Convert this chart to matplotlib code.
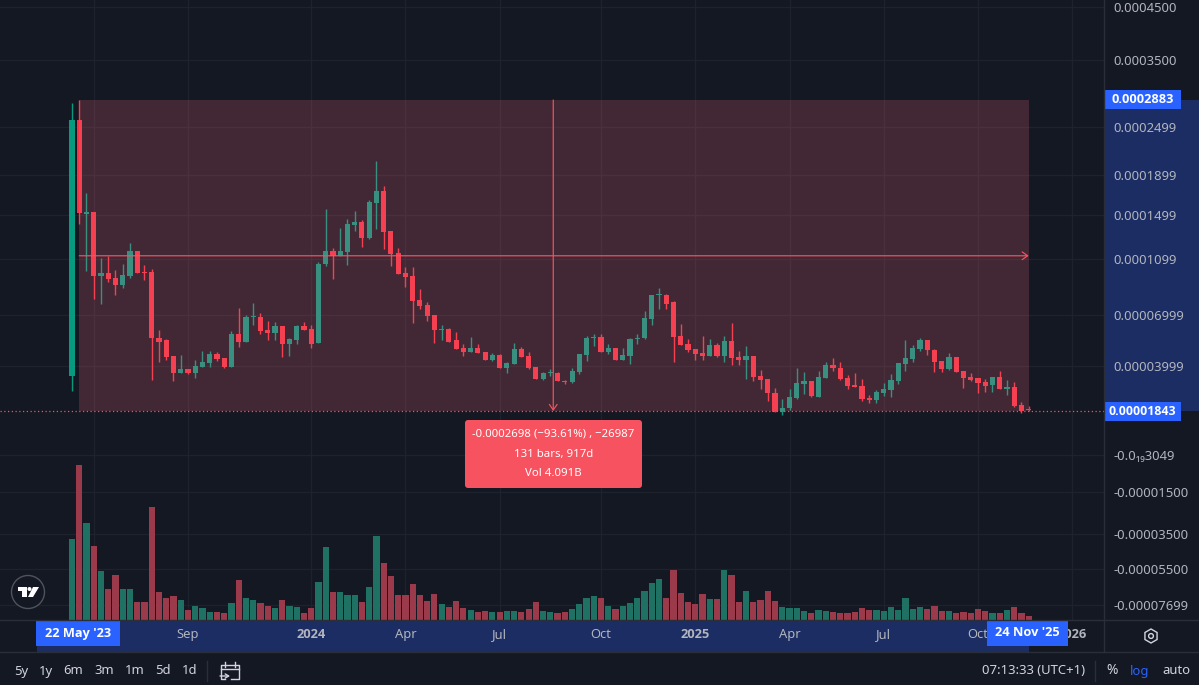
import numpy as np
import pandas as pd
import matplotlib
matplotlib.use("Agg")
import matplotlib.pyplot as plt
import matplotlib.dates as mdates
from matplotlib.patches import Rectangle, FancyBboxPatch, Circle, Polygon, RegularPolygon
from matplotlib.transforms import blended_transform_factory

plt.rcParams['font.family'] = ['Noto Sans', 'DejaVu Sans']

# Prices in units of 1e-5, one weekly bar per entry
opens = [3.50,25.88,15.11,15.31,9.72,9.92,9.53,9.04,9.72,11.65,9.97,10.0,5.60,5.44,4.55,3.64,3.83,3.64,3.96,4.15,4.66,4.44,3.96,5.84,5.32,6.86,6.89,6.08,5.88,6.32,5.25,5.44,6.28,6.12,5.26,10.58,11.70,11.27,11.56,14.02,14.27,12.84,16.13,17.32,13.41,11.47,9.94,9.70,8.0,7.66,7.0,6.06,6.12,5.44,5.01,4.74,5.01,4.74,4.32,4.60,3.91,4.11,4.96,4.55,3.93,3.35,3.62,3.65,3.24,3.20,3.68,4.58,5.56,5.62,4.78,5.01,4.32,4.55,5.52,5.56,6.75,8.34,8.34,7.82,5.70,5.25,4.96,4.70,4.53,5.19,4.53,5.38,4.51,4.34,4.55,3.50,3.32,2.68,1.80,1.97,2.42,3.10,3.22,2.49,3.41,4.07,3.91,3.41,3.04,2.99,2.45,2.34,2.68,2.81,3.22,4.13,4.38,4.94,5.44,4.90,4.29,3.83,4.51,3.74,3.45,3.38,3.19,3.05,3.43,2.87,2.95,2.10,1.93]
closes = [25.88,15.15,15.31,9.72,9.92,9.45,9.04,9.79,11.65,9.92,9.92,5.56,5.36,4.47,3.64,3.83,3.64,4.02,4.23,4.66,4.38,3.93,5.84,5.32,6.89,6.94,6.0,5.88,6.32,5.25,5.50,6.28,6.04,5.25,10.63,11.70,11.27,11.65,14.08,14.27,12.84,16.26,17.32,13.35,11.41,9.85,9.64,7.95,7.59,6.95,6.06,6.12,5.36,4.96,4.74,5.01,4.69,4.34,4.60,3.91,4.17,4.96,4.47,3.87,3.36,3.64,3.68,3.22,3.20,3.74,4.66,5.60,5.62,4.78,5.01,4.34,4.60,5.54,5.58,6.80,8.34,8.41,7.75,5.66,5.15,4.88,4.64,4.54,5.19,4.53,5.38,4.44,4.34,4.55,3.43,3.27,2.65,1.80,1.99,2.46,3.14,3.22,2.51,3.45,4.07,3.87,3.36,3.0,2.95,2.37,2.34,2.73,2.87,3.28,4.15,4.44,5.01,5.44,4.86,4.23,3.83,4.51,3.68,3.40,3.30,3.15,3.02,3.43,2.86,2.95,2.07,1.86,1.88]
highs = [28.44,28.83,17.07,15.31,11.05,11.27,10.15,10.6,12.40,11.65,10.55,10.2,6.04,5.54,4.55,4.60,3.83,4.34,4.84,4.80,4.78,4.44,5.98,7.46,6.98,7.78,7.15,6.63,6.58,6.32,5.58,6.36,6.58,6.38,10.78,15.57,11.91,13.74,14.64,15.34,14.46,16.39,20.65,17.87,13.44,11.93,10.35,10.35,8.74,7.86,7.0,6.38,6.18,5.94,5.23,5.64,5.23,4.74,4.73,4.66,4.24,5.26,5.03,4.77,3.93,3.71,3.85,3.70,3.31,3.89,4.68,5.72,5.82,5.82,5.23,5.01,5.0,5.60,5.82,7.26,8.34,8.85,8.41,7.93,6.44,5.54,4.96,5.72,5.52,5.29,5.68,6.52,4.84,5.13,4.55,3.80,3.36,2.89,2.37,2.84,3.90,3.68,3.22,3.75,4.23,4.41,4.24,3.55,3.64,3.36,2.58,2.81,3.14,3.60,4.17,5.44,5.15,5.58,5.46,4.96,4.29,4.71,4.51,3.75,3.62,3.38,3.34,3.45,3.74,3.27,3.19,2.23,2.08]
lows = [2.78,14.08,10.07,8.05,7.73,9.28,8.32,8.81,9.57,9.92,9.40,3.30,4.24,4.34,3.25,3.64,3.60,3.41,3.96,3.96,4.29,3.89,3.96,5.05,5.32,6.38,5.84,5.44,5.44,4.47,4.53,5.25,6.04,5.0,5.26,10.43,9.49,11.27,10.53,13.44,12.05,12.73,13.60,11.87,10.45,9.85,8.88,6.52,7.39,6.63,5.29,5.48,5.36,4.96,4.55,4.74,4.69,4.34,4.27,3.91,3.64,4.11,4.47,3.83,3.36,3.30,3.50,3.22,3.10,3.14,3.58,4.29,5.09,4.74,4.68,4.34,4.32,4.11,5.25,5.52,6.38,7.38,7.38,4.23,5.15,4.77,4.34,4.34,4.53,4.51,4.21,4.06,4.06,3.34,3.22,2.84,2.30,1.80,1.67,1.89,2.39,2.62,2.48,2.46,3.41,3.76,3.30,2.87,2.94,2.31,2.22,2.22,2.52,2.49,3.09,3.75,4.23,4.84,4.60,3.68,3.68,3.80,3.68,2.92,3.25,2.68,2.71,2.73,2.86,2.58,2.04,1.73,1.84]
# Volume
volumes = [80.7,155,96.7,74,49,30.7,45.3,31.3,30.7,18.3,17.7,113.3,27.7,22.3,24.3,20.3,10,14,12,8.3,8,7.3,16.7,40,22,20.3,16.7,14,12,19.7,14,13,7.3,12,38,73.3,27.7,27.7,25,25,17.7,32.7,84.3,57.3,43.7,25.3,25.3,36.3,25.3,18.7,26.3,16.3,13.3,19,12.3,10.3,8.3,9.3,7.7,7.7,9.3,9.3,8.3,11.3,18,8.7,7.7,6.7,7.7,11.3,16,21.7,24.3,21.7,14.3,11.3,14.3,17,21.7,29.3,36.7,41,21.7,50.3,27,18,16,26.3,20.7,20.7,49.7,44.7,18,29.3,18,19.7,29.3,18.7,13.3,12.3,12.3,9.3,6.7,10.3,9.3,8.3,7.3,6.7,8.3,12.3,10.3,10.3,9.3,13.3,10.3,21.7,11.3,13.3,11.3,14.3,9.3,8.7,7.3,8.3,7.3,11.3,9.3,6.7,7.3,10.3,13.3,7.3,4]
first_week = '2023-05-15'

price_ticks = [45, 35, 24.99, 18.99, 14.99, 10.99, 6.999, 3.999, 0, -1.5, -3.5, -5.5, -7.699]
price_labels = ['0.0004500', '0.0003500', '0.0002499', '0.0001899', '0.0001499', '0.0001099',
                '0.00006999', '0.00003999', '-0.0\u2081\u20893049', '-0.00001500', '-0.00003500',
                '-0.00005500', '-0.00007699']
range_high, range_low = 28.83, 1.843
range_mid = 11.26
date_ticks = ['2023-06-05', '2023-09-04', '2024-01-01', '2024-04-01', '2024-07-01', '2024-10-07',
              '2025-01-06', '2025-04-07', '2025-07-07', '2025-10-06', '2026-01-05']
date_labels = ['', 'Sep', '2024', 'Apr', 'Jul', 'Oct', '2025', 'Apr', 'Jul', 'Oct', '2026']
bold_labels = {'2024', '2025', '2026'}
ranges = ['5y', '1y', '6m', '3m', '1m', '5d', '1d']

# Colours
BG = '#141823'; GRID = '#1e222d'; TXT = '#b2b5be'; TOOL = '#d1d4dc'; BORDER = '#2a2e39'
UP = '#089981'; DOWN = '#f23645'; SEL = '#1c2d63'; TAG = '#2962ff'; MEAS = '#f7525f'
ZONE = '#ff6c80'; VOL_UP = '#1f7263'; VOL_DOWN = '#9a3a4a'

W, H = 1199, 685
fig = plt.figure(figsize=(W / 100, H / 100), dpi=100, facecolor=BG)
PANE_R, PANE_B = 1104, 620
ax = fig.add_axes([0, 1 - PANE_B / H, PANE_R / W, PANE_B / H], facecolor=BG)

# TradingView style log scale with an offset, fixed to the printed tick rows
C = 10.0
sc_p = np.array([-8.5, -7.699, -5.5, -3.5, -1.5, 0, 1.843, 3.999, 6.999, 10.99, 14.99, 18.99, 24.99, 28.83, 35, 45, 46.3])
sc_r = -np.array([620, 605, 569, 534, 492, 455, 411, 366, 315, 259, 215, 175, 127, 100, 60, 7, 0], float)
sc_l = np.log(sc_p + C)
def fwd(p):
    return np.interp(np.log(np.clip(np.asarray(p, float), -9.9, None) + C), sc_l, sc_r)
def inv(t):
    return np.exp(np.interp(np.asarray(t, float), sc_r, sc_l)) - C
ax.set_yscale('function', functions=(fwd, inv))

o, c, hi, lo = map(np.array, (opens, closes, highs, lows))
dates = pd.date_range(first_week, periods=len(o), freq='7D')
x = mdates.date2num(dates)
px_day = (1028.7 - 72) / (x[-1] - x[0])
xmin, xmax = x[0] - 72 / px_day, x[0] + (PANE_R - 72) / px_day
ax.set_xlim(xmin, xmax)
ax.set_ylim(-8.5, 46.3)

for s in ax.spines.values():
    s.set_visible(False)
ax.set_axisbelow(True)
ax.grid(True, color=GRID, lw=1, zorder=0.5)

tick_x = mdates.date2num(pd.to_datetime(date_ticks))
ax.set_xticks(tick_x)
ax.set_xticklabels(date_labels, color=TXT, fontsize=9.3)
for t in ax.get_xticklabels():
    if t.get_text() in bold_labels:
        t.set_fontfamily(['Open Sans', 'DejaVu Sans'])
        t.set_fontweight('bold')
ax.tick_params(axis='x', length=0, pad=6)
ax.yaxis.tick_right()
ax.set_yticks(price_ticks)
ax.set_yticks([], minor=True)
ax.set_yticklabels(price_labels, color=TXT, fontsize=9.4)
ax.tick_params(axis='y', length=0, pad=6.5)

# Candles
up = c >= o
cols = np.where(up, UP, DOWN)
ax.vlines(x, lo, hi, colors=cols, lw=1, zorder=2)
ax.bar(x, np.abs(c - o), bottom=np.minimum(o, c), width=5, color=cols, lw=0, zorder=2.2)

# Measure zone over the candles
ax.add_patch(Rectangle((x[1], range_low), x[-1] - x[1], range_high - range_low,
                       facecolor=ZONE, alpha=0.2, lw=0, zorder=3))
arrow = dict(arrowstyle='->,head_width=0.28,head_length=0.4', color=MEAS, lw=0.85, shrinkA=0, shrinkB=0)
ax.annotate('', xy=(x[-1], range_mid), xytext=(x[1], range_mid), zorder=3.2, arrowprops=arrow)
xm = (x[1] + x[-1]) / 2 - 0.7
ax.annotate('', xy=(xm, range_low), xytext=(xm, range_high), zorder=3.2, arrowprops=arrow)
ax.axhline(range_low, color=MEAS, lw=0.9, ls=(0, (1, 2)), zorder=3.1)

# Highlighted band on the price axis
tr_y = blended_transform_factory(ax.transAxes, ax.transData)
ax.add_patch(Rectangle((1, range_low), (W - PANE_R) / PANE_R, range_high - range_low, transform=tr_y,
                       facecolor=SEL, lw=0, clip_on=False, zorder=0.2))

# Volume pane
vax = fig.add_axes(ax.get_position(), sharex=ax, facecolor='none')
vax.set_ylim(0, PANE_B)
vax.axis('off')
vax.bar(x, volumes, width=6, color=np.where(up, VOL_UP, VOL_DOWN), lw=0)
vax.set_xlim(xmin, xmax)

# Page furniture in pixel rows
ov = fig.add_axes([0, 0, 1, 1], facecolor='none')
ov.set_xlim(0, W); ov.set_ylim(H, 0); ov.axis('off')
ax.set_zorder(2); vax.set_zorder(3)
ov.add_patch(Rectangle((37, PANE_B), 992, 32, facecolor=SEL, lw=0, zorder=0))
ov.set_zorder(1)  # strip sits under the tick labels
ax.patch.set_visible(False)
tag = fig.add_axes([0, 0, 1, 1], facecolor='none', zorder=6)
tag.set_xlim(0, W); tag.set_ylim(H, 0); tag.axis('off')
for yy in (PANE_B, 652):
    tag.plot([0, W], [yy, yy], color=BORDER, lw=1)
tag.plot([PANE_R, PANE_R], [0, 652], color=BORDER, lw=1)

BOLD = ['Open Sans', 'DejaVu Sans']
def box(x0, y0, x1, y1, text, fs=9.2):
    tag.add_patch(Rectangle((x0, y0), x1 - x0, y1 - y0, facecolor=TAG, lw=0))
    tag.text((x0 + x1) / 2, (y0 + y1) / 2, text, color='white', fontsize=fs, fontweight='bold',
             family=BOLD, ha='center', va='center')
box(1104, 90, 1181, 109, '0.0002883')
box(1104, 402, 1181, 421, '0.00001843', fs=8.9)
box(36, 620, 120, 646, "22 May '23")
box(987, 620, 1068, 646, "24 Nov '25")

tag.add_patch(FancyBboxPatch((467, 422), 173, 64, boxstyle='round,pad=2,rounding_size=3',
                             facecolor=MEAS, lw=0))
for yy, s in zip((434, 454, 473), ('-0.0002698 (\u221293.61%) , \u221226987', '131 bars, 917d', 'Vol 4.091B')):
    tag.text(553.5, yy, s, color='white', fontsize=8.2, ha='center', va='center')

for xx, s in zip((21, 46, 73, 104, 135, 163, 190), ranges):
    tag.text(xx, 671, s, color=TOOL, fontsize=9.4, ha='center', va='center')
tag.plot([207, 207], [661, 681], color=BORDER, lw=1)
tag.plot([1095, 1095], [661, 681], color=BORDER, lw=1)
tag.text(1085, 671, '07:13:33 (UTC+1)', color=TOOL, fontsize=9.4, ha='right', va='center')
tag.text(1112, 671, '%', color=TOOL, fontsize=10, ha='center', va='center')
tag.text(1140, 671, 'log', color=TAG, fontsize=9.4, ha='center', va='center')
tag.text(1176, 671, 'auto', color=TOOL, fontsize=9.4, ha='center', va='center')

# Calendar icon
tag.plot([225, 221, 221, 239, 239, 231], [679, 679, 665, 665, 679, 679], color=TOOL, lw=1)
tag.plot([221, 239], [669, 669], color=TOOL, lw=1)
tag.plot([225, 225], [662, 667], color=TOOL, lw=1)
tag.plot([235, 235], [662, 667], color=TOOL, lw=1)
tag.add_patch(Rectangle((219, 672), 9, 8, facecolor=BG, lw=0))
tag.annotate('', xy=(230, 676), xytext=(220, 676),
             arrowprops=dict(arrowstyle='->,head_width=0.15,head_length=0.25', color=TOOL, lw=1, shrinkA=0, shrinkB=0))
# Settings icon
tag.add_patch(RegularPolygon((1151, 636), 6, radius=7, fill=False, ec=TOOL, lw=1))
tag.add_patch(Circle((1151, 636), 2.4, fill=False, ec=TOOL, lw=1))
# Logo
tag.add_patch(Circle((28, 592), 16.5, facecolor=BG, ec='#50535e', lw=1))
tag.add_patch(Polygon([(18, 587), (27, 587), (27, 597), (22, 597), (22, 591), (18, 591)], facecolor='white', lw=0))
tag.add_patch(Circle((29.5, 589), 2, facecolor='white', lw=0))
tag.add_patch(Polygon([(33, 587), (39, 587), (33, 597), (28, 597)], facecolor='white', lw=0))

fig.savefig('out.png', dpi=100, facecolor=BG)
